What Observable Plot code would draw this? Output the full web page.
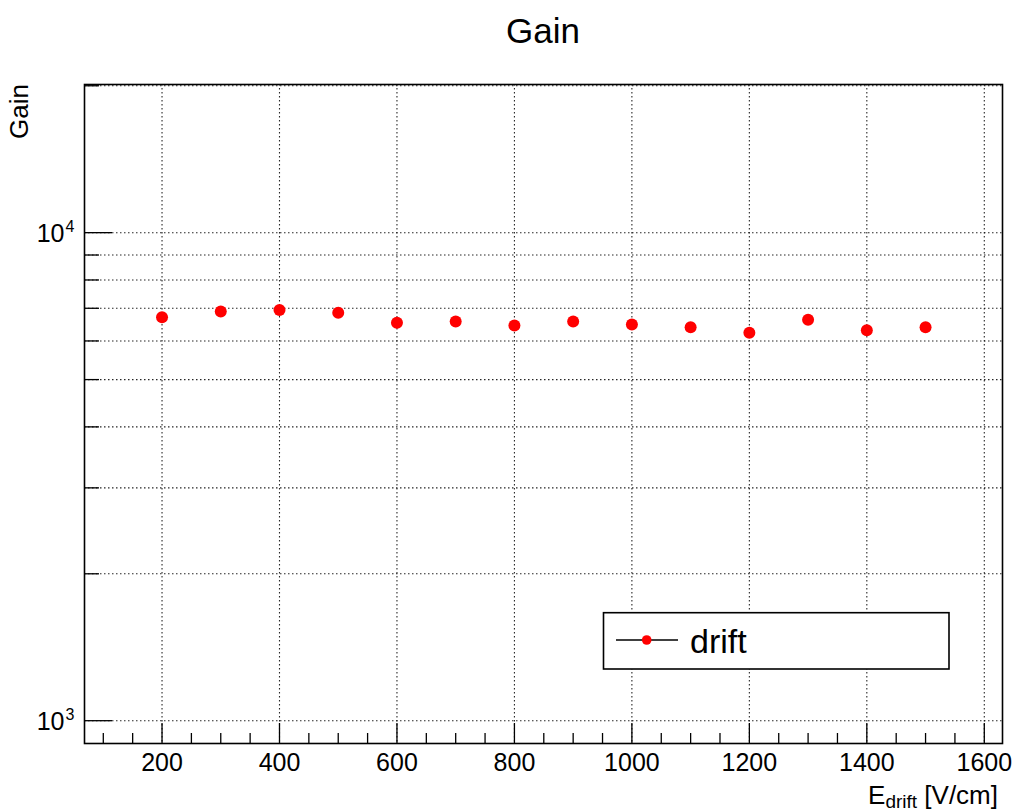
<!DOCTYPE html>
<html>
<head>
<meta charset="utf-8">
<script src="https://cdn.jsdelivr.net/npm/d3@7"></script>
<script src="https://cdn.jsdelivr.net/npm/@observablehq/plot@0.6"></script>
<style>
  html, body { margin: 0; padding: 0; background: #fff; }
  #chart { width: 1015px; height: 812px; }
  svg { font-family: "Liberation Sans", Arial, Helvetica, sans-serif; }
</style>
</head>
<body>
<div id="chart"></div>
<script>
// ---- data ----
const eDrift = [200, 300, 400, 500, 600, 700, 800, 900, 1000, 1100, 1200, 1300, 1400, 1500];
const gainValues = [6706, 6898, 6940, 6855, 6539, 6578, 6455, 6578, 6486, 6403, 6237, 6631, 6313, 6403];

// ---- ticks ----
const xMajorTicks = [200, 400, 600, 800, 1000, 1200, 1400, 1600];
const xMinorTicks = [100, 150, 250, 300, 350, 450, 500, 550, 650, 700, 750, 850, 900, 950,
                     1050, 1100, 1150, 1250, 1300, 1350, 1450, 1500, 1550];
const yMajorTicks = [1000, 10000];
const yMinorTicks = [2000, 3000, 4000, 5000, 6000, 7000, 8000, 9000, 20000];
const yAllTicks = yMajorTicks.concat(yMinorTicks);

const titleText = "Gain";
const yTitle = "Gain";
const legendLabel = "drift";

const data = eDrift.map((e, i) => ({e, g: gainValues[i]}));

const W = 1015, H = 812;
const mL = 84, mR = 13, mT = 84, mB = 69;

const gridStyle = {stroke: "#000", strokeOpacity: 0.85, strokeWidth: 1.1, strokeDasharray: "1.5,2.5"};

const plot = Plot.plot({
  width: W,
  height: H,
  marginLeft: mL,
  marginRight: mR,
  marginTop: mT,
  marginBottom: mB,
  style: {fontSize: "25px", fontFamily: "'Liberation Sans', Arial, Helvetica, sans-serif", color: "#000", background: "#fff"},
  x: {type: "linear", domain: [68, 1631], axis: null},
  y: {type: "log", domain: [898, 20120], axis: null},
  marks: [
    Plot.gridX({ticks: xMajorTicks, ...gridStyle}),
    Plot.gridY({ticks: yAllTicks, ...gridStyle}),
    // x ticks (inside frame)
    Plot.axisX({ticks: xMajorTicks, tickSize: -20, tickFormat: () => "", label: null, strokeWidth: 1.3}),
    Plot.axisX({ticks: xMinorTicks, tickSize: -10, tickFormat: () => "", label: null, strokeWidth: 1.3}),
    Plot.axisX({ticks: xMajorTicks, tickSize: 0, tickPadding: 10, tickFormat: d => String(d), label: null, fontSize: 25}),
    // y ticks (inside frame)
    Plot.axisY({ticks: yMajorTicks, tickSize: -28, tickFormat: () => "", label: null, strokeWidth: 1.3}),
    Plot.axisY({ticks: yMinorTicks, tickSize: -15, tickFormat: () => "", label: null, strokeWidth: 1.3}),
    // y tick labels 10^n
    Plot.text(yMajorTicks, {y: d => d, frameAnchor: "left", text: () => "10", textAnchor: "end", dx: -20, dy: 1.5, fontSize: 25, fill: "#000"}),
    Plot.text(yMajorTicks, {y: d => d, frameAnchor: "left", text: d => String(Math.round(Math.log10(d))), textAnchor: "start", dx: -19, dy: -6, fontSize: 16, fill: "#000"}),
    Plot.dot(data, {x: "e", y: "g", r: 6, fill: "#ff0000", stroke: null}),
    Plot.frame({stroke: "#000", strokeWidth: 1.6})
  ]
});

document.getElementById("chart").appendChild(plot);

// ---- titles and legend ----
const svg = d3.select(plot);
const ff = "'Liberation Sans', Arial, Helvetica, sans-serif";

svg.append("text")
  .attr("x", (mL + W - mR) / 2).attr("y", 43)
  .attr("text-anchor", "middle")
  .attr("font-size", 35).attr("font-family", ff).attr("fill", "#000")
  .text(titleText);

svg.append("text")
  .attr("transform", `translate(28,${mT}) rotate(-90)`)
  .attr("text-anchor", "end")
  .attr("font-size", 26).attr("font-family", ff).attr("fill", "#000")
  .text(yTitle);

const xt = svg.append("text")
  .attr("x", W - mR - 4).attr("y", 804)
  .attr("text-anchor", "end")
  .attr("font-size", 26).attr("font-family", ff).attr("fill", "#000");
xt.append("tspan").text("E");
xt.append("tspan").attr("font-size", 19).attr("dy", 4).text("drift");
xt.append("tspan").attr("dy", -4).text(" [V/cm]");

const lg = svg.append("g");
lg.append("rect")
  .attr("x", 603.5).attr("y", 612.7).attr("width", 345.5).attr("height", 56.3)
  .attr("fill", "#fff").attr("stroke", "#000").attr("stroke-width", 1.6);
lg.append("line")
  .attr("x1", 616).attr("x2", 678).attr("y1", 640).attr("y2", 640)
  .attr("stroke", "#000").attr("stroke-width", 1.3);
lg.append("circle")
  .attr("cx", 646.7).attr("cy", 640).attr("r", 4.8).attr("fill", "#ff0000");
lg.append("text")
  .attr("x", 690).attr("y", 653)
  .attr("text-anchor", "start")
  .attr("font-size", 34).attr("font-family", ff).attr("fill", "#000")
  .text(legendLabel);
</script>
</body>
</html>
